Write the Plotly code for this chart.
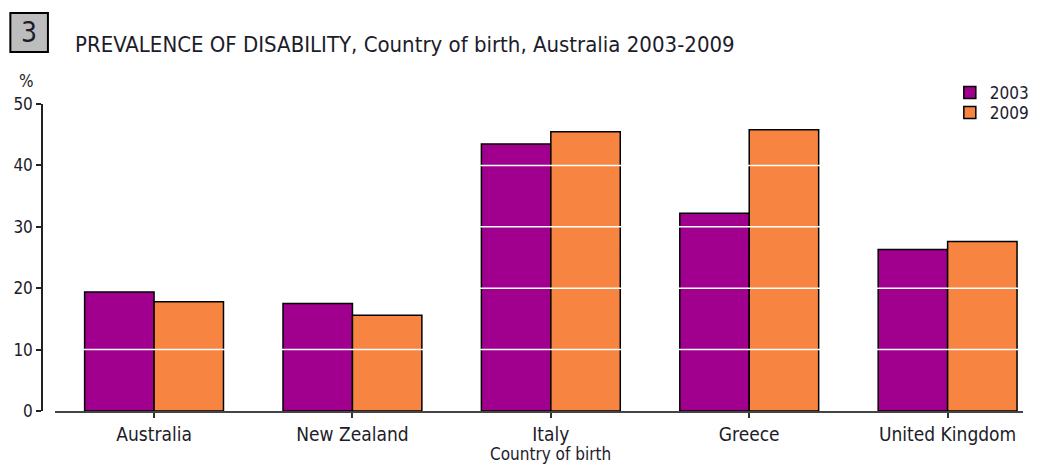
import plotly.graph_objects as go

# Prevalence of disability by country of birth, 2003 vs 2009 (%)
countries = ["Australia", "New Zealand", "Italy", "Greece", "United Kingdom"]
prev_2003 = [19.4, 17.5, 43.5, 32.2, 26.3]
prev_2009 = [17.8, 15.6, 45.5, 45.8, 27.6]
y_ticks = [0, 10, 20, 30, 40, 50]

PURPLE = "#A1008F"
ORANGE = "#F88442"
TEXT = "#1c1c2a"
FONT = "DejaVu Sans Condensed, DejaVu Sans, sans-serif"

W, H = 1046, 467
ML, MR, MT, MB = 42, 12, 104, 56
plot_w = W - ML - MR
ph = H - MT - MB
x_start = 13 / plot_w  # gap between the y axis line and the category axis


def py(pix):
    return 1 + (MT - pix) / ph


def px(pix):
    return (pix - ML) / plot_w


fig = go.Figure()
fig.add_trace(go.Bar(name="2003", x=countries, y=prev_2003, legend="legend",
                     marker=dict(color=PURPLE, line=dict(color="black", width=1.5))))
fig.add_trace(go.Bar(name="2009", x=countries, y=prev_2009, legend="legend2",
                     marker=dict(color=ORANGE, line=dict(color="black", width=1.5))))

# white gridlines that run across the bars
shapes = []
for t in y_ticks[1:-1]:
    shapes.append(dict(type="line", xref="paper", yref="y", x0=x_start, x1=1,
                       y0=t, y1=t, line=dict(color="white", width=1.5), layer="above"))

# numbered chart badge
shapes.append(dict(type="rect", xref="paper", yref="paper",
                   x0=px(10), x1=px(48), y0=py(52), y1=py(13),
                   fillcolor="#BDBDBD", line=dict(color="black", width=2)))

annotations = [
    dict(text="3", xref="paper", yref="paper", x=px(29), y=py(33), showarrow=False,
         font=dict(family=FONT, size=28, color=TEXT), xanchor="center", yanchor="middle"),
    dict(text="PREVALENCE OF DISABILITY, Country of birth, Australia 2003-2009",
         xref="paper", yref="paper", x=px(73), y=py(45), showarrow=False,
         font=dict(family=FONT, size=22, color=TEXT), xanchor="left", yanchor="middle"),
    dict(text="%", xref="paper", yref="paper", x=px(26), y=py(81), showarrow=False,
         font=dict(family=FONT, size=17, color=TEXT), xanchor="center", yanchor="middle"),
    dict(text="Country of birth", xref="x", yref="paper", x=2, y=py(466), showarrow=False,
         font=dict(family=FONT, size=17, color=TEXT), xanchor="center", yanchor="bottom"),
]

legend_style = dict(xanchor="left", yanchor="top", x=px(960),
                    font=dict(family=FONT, size=17, color=TEXT),
                    bgcolor="rgba(0,0,0,0)", itemwidth=30)

fig.update_layout(
    width=W, height=H,
    margin=dict(l=ML, r=MR, t=MT, b=MB),
    paper_bgcolor="white", plot_bgcolor="white",
    barmode="group", bargap=0.3, bargroupgap=0,
    font=dict(family=FONT, size=17, color=TEXT),
    showlegend=True,
    legend=dict(y=py(75), **legend_style),
    legend2=dict(y=py(95), **legend_style),
    shapes=shapes, annotations=annotations,
    xaxis=dict(domain=[x_start, 1], range=[-0.5, 4.38], showgrid=False,
               showline=True, linecolor="#444", linewidth=1.5,
               ticks="outside", ticklen=5, tickcolor="#333", tickwidth=1.5,
               tickfont=dict(family=FONT, size=19, color=TEXT), zeroline=False),
    yaxis=dict(range=[0, 50], tickvals=y_ticks, showgrid=False, zeroline=False,
               anchor="free", position=0, showline=True, linecolor="#222", linewidth=1.5,
               ticks="outside", ticklen=5, tickcolor="#222", tickwidth=1.5,
               tickfont=dict(family=FONT, size=17, color=TEXT)),
)

fig.write_html("out.html")
